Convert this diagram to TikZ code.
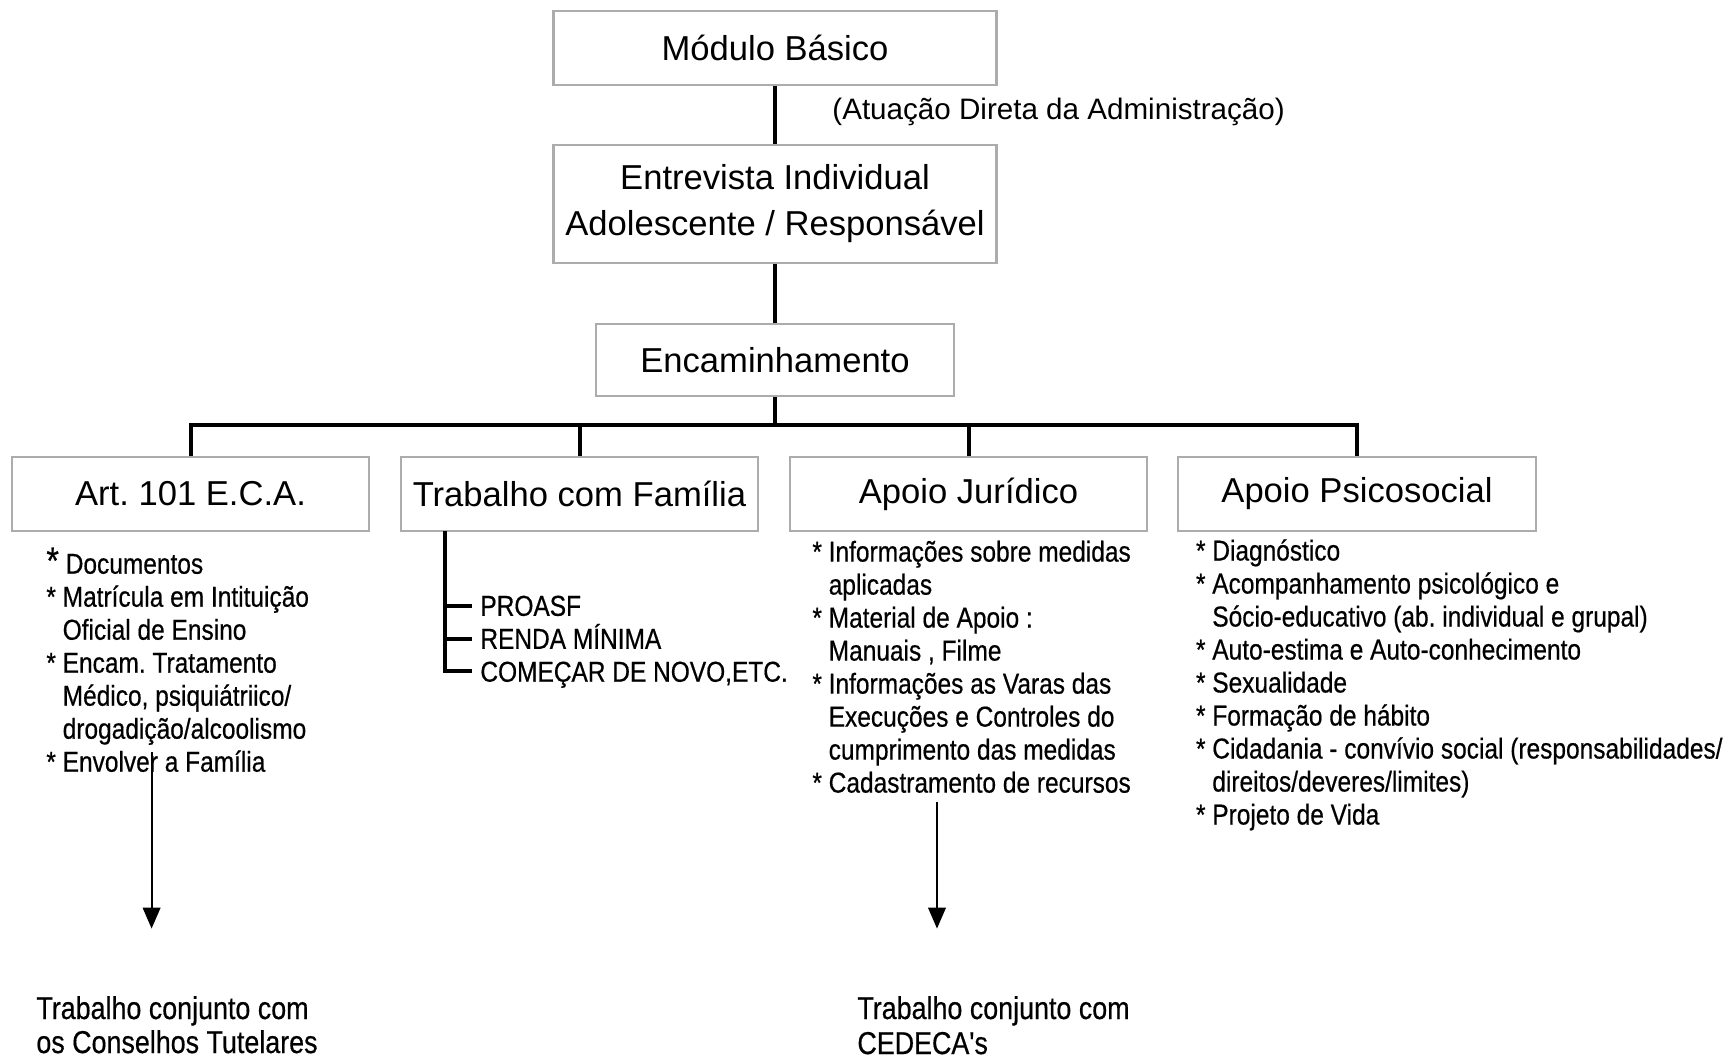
\documentclass[tikz,border=0pt]{standalone}
\usepackage{fontspec}
\setmainfont{Liberation Sans}
\newfontfamily\narrowfont[FakeStretch=0.85,FakeBold=0.5]{Liberation Sans}
\usetikzlibrary{arrows.meta}
\newcommand{\ind}{\hphantom{*\ }}
\frenchspacing

\begin{document}
\begin{tikzpicture}[x=0.5pt,y=-0.5pt,
    box/.style={draw=gray!65, line width=1.2pt, inner sep=0pt, align=center,
      font=\fontsize{17.3}{23}\selectfont},
    list/.style={anchor=base west, inner sep=0pt, align=left,
      font=\narrowfont\fontsize{14.4}{16.5}\selectfont},
    prog/.style={anchor=west, inner sep=0pt, text height=10.3pt, text depth=0pt,
      font=\narrowfont\fontsize{14.4}{16.5}\selectfont},
    link/.style={line width=2pt},
    down/.style={line width=1pt, -{Triangle[length=10.5pt,width=8.8pt]}}]
  \useasboundingbox (0,0) rectangle (1723,1060);
  \draw
    (775,48) node[box, minimum width=221.5pt, minimum height=37pt] (mod){Módulo Básico}
    (775,204) node[box, minimum width=221.5pt, minimum height=59pt] (ent){Entrevista Individual\\Adolescente / Responsável}
    (775,360) node[box, minimum width=179pt, minimum height=36pt] (enc){Encaminhamento}
    (190.5,494) node[box, minimum width=178.5pt, minimum height=37pt] (art){Art. 101 E.C.A.}
    (579.5,494) node[box, minimum width=178.5pt, minimum height=37pt] (fam){Trabalho com Família}
    (968.5,494) node[box, minimum width=178.5pt, minimum height=37pt] (jur){Apoio Jurídico}
    (1357,494) node[box, minimum width=179pt, minimum height=37pt] (psi){Apoio Psicosocial};
  \node[anchor=base west, inner sep=0pt, font=\fontsize{14.8}{18}\selectfont] (atu) at (832,119.6)
    {(Atuação Direta da Administração)};

  % listas (base = ultima linha)
  \node[list] (artlist) at (46,771.7)
    {{\fontsize{19}{19}\selectfont*} Documentos\\
     * Matrícula em Intituição\\
     \ind Oficial de Ensino\\
     * Encam. Tratamento\\
     \ind Médico, psiquiátriico/\\
     \ind drogadição/alcoolismo\\
     * Envolver a Família};
  \node[list] (jurlist) at (812,792.6)
    {* Informações sobre medidas\\
     \ind aplicadas\\
     * Material de Apoio :\\
     \ind Manuais , Filme\\
     * Informações as Varas das\\
     \ind Execuções e Controles do\\
     \ind cumprimento das medidas\\
     * Cadastramento de recursos};
  \node[list] (psilist) at (1195.6,824.5)
    {* Diagnóstico\\
     * Acompanhamento psicológico e\\
     \ind Sócio-educativo (ab. individual e grupal)\\
     * Auto-estima e Auto-conhecimento\\
     * Sexualidade\\
     * Formação de hábito\\
     * Cidadania - convívio social (responsabilidades/\\
     \ind direitos/deveres/limites)\\
     * Projeto de Vida};
  \node[prog] (p1) at (480,605.5) {PROASF};
  \node[prog] (p2) at (480,638.5) {RENDA MÍNIMA};
  \node[prog] (p3) at (480,671.4) {COMEÇAR DE NOVO,ETC.};

  \node[list, font=\narrowfont\fontsize{15.8}{17}\selectfont] (bot1) at (36,1053)
    {Trabalho conjunto com\\os Conselhos Tutelares};
  \node[list, font=\narrowfont\fontsize{15.8}{17.5}\selectfont] (bot2) at (857,1054)
    {Trabalho conjunto com\\CEDECA's};

  \coordinate (bus) at (775,425);
  \coordinate (tr) at (445,531);
  \coordinate (s1) at (151.6,752);
  \coordinate (e1) at (151.6,928.6);
  \coordinate (s2) at (937,802);
  \coordinate (e2) at (937,928.6);

  \begin{scope}[link]
    \draw (mod) -- (ent);
    \draw (ent) -- (enc);
    \draw (enc.south) -- (bus) -| (art.north);
    \draw (bus) -| (fam.north);
    \draw (bus) -| (jur.north);
    \draw (bus) -| (psi.north);
    \draw (tr) |- ([xshift=-4pt]p1.west);
    \draw (tr) |- ([xshift=-4pt]p2.west);
    \draw (tr) |- ([xshift=-4pt]p3.west);
  \end{scope}
  \draw[down] (s1) -- (e1);
  \draw[down] (s2) -- (e2);
\end{tikzpicture}
\end{document}
